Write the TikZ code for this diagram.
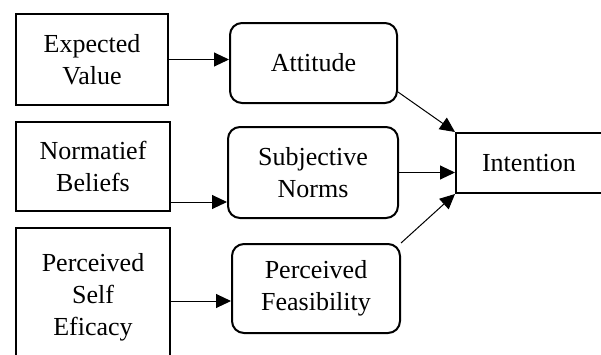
\documentclass[tikz,border=0pt]{standalone}
\usepackage{fontspec}
\setmainfont{Liberation Serif}
\usetikzlibrary{arrows.meta}
\begin{document}
\begin{tikzpicture}[
    x=1pt, y=-1pt,
    every node/.style={align=center, font=\fontsize{26}{32}\selectfont, inner sep=0pt},
    factor/.style={draw, line width=2pt},
    construct/.style={draw, line width=2pt, rounded corners=12pt},
    link/.style={line width=1pt, -{Triangle[length=15pt,width=14pt]}}
]
\useasboundingbox (0,0) rectangle (601,354);
\node[factor, minimum width=152pt, minimum height=91pt] (ev) at (92,59.5) {Expected\\Value};
\node[factor, minimum width=154pt, minimum height=89pt] (nb) at (93,166.5) {Normatief\\Beliefs};
\node[factor, minimum width=154pt, minimum height=138pt] (ps) at (93,297) {Perceived\\Self\\Eficacy};
\node[construct, minimum width=167pt, minimum height=80pt] (att) at (313.5,63) {Attitude};
\node[construct, minimum width=170pt, minimum height=91pt] (sn) at (313,172.5) {Subjective\\Norms};
\node[construct, minimum width=168pt, minimum height=89pt] (pf) at (316,288.5) {Perceived\\Feasibility};
\node[factor, minimum width=146pt, minimum height=60pt] (int) at (529,163) {Intention};
\draw[link] (ev.east) -- (ev.east -| att.west);
\draw[link] ([yshift=-35.5pt]nb.east) -- ([yshift=-35.5pt]nb.east -| sn.west);
\draw[link] ([yshift=-4pt]ps.east) -- ([yshift=-4pt]ps.east -| pf.west);
\draw[link] ([yshift=-29pt]att.east) -- (int.north west);
\draw[link] (sn.east) -- (sn.east -| int.west);
\draw[link] (pf.north east) -- (int.south west);
\end{tikzpicture}
\end{document}
